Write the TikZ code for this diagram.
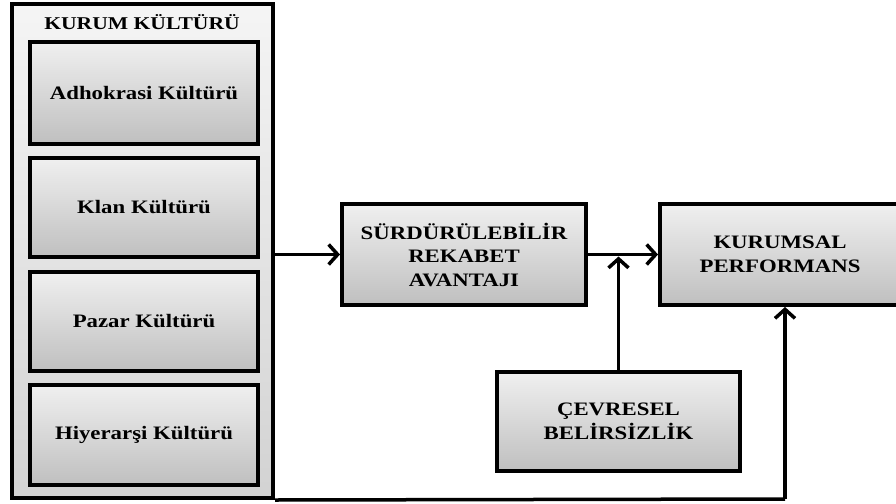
\documentclass[tikz,border=0pt]{standalone}
\usepackage{fontspec}
\newfontfamily\kfont{Liberation Serif}[FakeStretch=1.2]
\usetikzlibrary{arrows.meta,shadows}
\tikzset{
  boxbase/.style={draw=black, line width=4pt, top color=gray!12, bottom color=gray!50,
    drop shadow={shadow xshift=2pt, shadow yshift=-2pt, opacity=0.35}},
  kbox/.style={boxbase, align=center, inner sep=2pt,
    font=\kfont\bfseries\fontsize{19}{23.5}\selectfont},
  outerbox/.style={draw=black, line width=4pt, top color=gray!8, bottom color=gray!35},
  conn/.style={line width=3.5pt, -{Straight Barb[length=9pt,width=20pt]}},
  plain/.style={line width=3.5pt}
}
\begin{document}
\begin{tikzpicture}[x=1pt,y=-1pt]
\useasboundingbox (0,0) rectangle (896,503);
\clip (0,0) rectangle (896,503);
\fill[white] (0,0) rectangle (896,503);
% outer container
\node[outerbox, minimum width=261pt, minimum height=494pt] (outer) at (142.5,251) {};
\node[font=\kfont\bfseries\fontsize{18}{20}\selectfont] (title) at (142,22) {KURUM KÜLTÜRÜ};
% culture boxes
\node[kbox, minimum width=228pt, minimum height=102pt] (adh) at (144,93) {Adhokrasi Kültürü};
\node[kbox, minimum width=228pt, minimum height=99pt] (klan) at (144,207.5) {Klan Kültürü};
\node[kbox, minimum width=228pt, minimum height=99pt] (pazar) at (144,321.5) {Pazar Kültürü};
\node[kbox, minimum width=228pt, minimum height=100pt] (hiy) at (144,435) {Hiyerarşi Kültürü};
% main boxes
\node[kbox, minimum width=244pt, minimum height=101pt] (sra) at (464,254.5) {SÜRDÜRÜLEBİLİR\\REKABET\\AVANTAJI};
\node[kbox, minimum width=268pt, minimum height=101pt, text width=250pt] (kp) at (794,254.5)
  {\hspace*{-28pt}KURUMSAL\\\hspace*{-28pt}PERFORMANS};
\node[kbox, minimum width=243pt, minimum height=99pt] (cb) at (618.5,421.5) {ÇEVRESEL\\BELİRSİZLİK};
% connectors
\coordinate (bend) at (785,499);
\draw[conn] (outer.east |- sra.west) -- (sra.west);
\draw[conn] (sra.east) -- (kp.west);
\draw[conn] (cb.north) -- ([yshift=-2pt]cb.north |- sra.east);
\draw[plain] (outer.south east) -- (bend);
\draw[conn] (bend) -- (bend |- kp.south);
\end{tikzpicture}
\end{document}
